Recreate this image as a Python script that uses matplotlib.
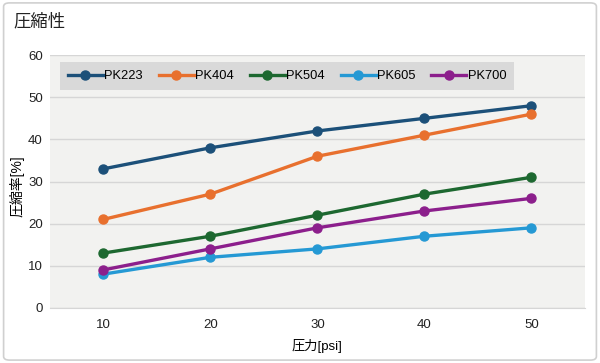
import matplotlib.pyplot as plt
from matplotlib.patches import FancyBboxPatch

# Data
pressure = ['10', '20', '30', '40', '50']
pk223 = [33, 38, 42, 45, 48]
pk404 = [21, 27, 36, 41, 46]
pk504 = [13, 17, 22, 27, 31]
pk605 = [8, 12, 14, 17, 19]
pk700 = [9, 14, 19, 23, 26]

series = [('PK223', pk223, '#1c5079'),
          ('PK404', pk404, '#e8702e'),
          ('PK504', pk504, '#1d6830'),
          ('PK605', pk605, '#2599d4'),
          ('PK700', pk700, '#8c1f8c')]

plt.rcParams['font.family'] = ['Liberation Sans', 'Noto Sans CJK JP']
plt.rcParams['font.size'] = 9

fig = plt.figure(figsize=(6, 3.63), dpi=100)
ax = fig.add_axes([0.083, 0.152, 0.892, 0.696])

# Rounded outer frame
fig.patches.append(FancyBboxPatch((0.006, 0.008), 0.988, 0.984,
                                  boxstyle='round,pad=0,rounding_size=0.01',
                                  transform=fig.transFigure, fill=False,
                                  edgecolor='#d0d0d0', linewidth=1.2))

x = range(len(pressure))
for name, vals, col in series:
    ax.plot(x, vals, color=col, linewidth=2.4, marker='o', markersize=6.5, label=name)

ax.set_facecolor('#f2f2f0')
ax.set_xlim(-0.5, 4.5)
ax.set_ylim(0, 60)
ax.set_yticks(range(0, 61, 10))
ax.set_xticks(list(x))
ax.set_xticklabels(pressure)
ax.yaxis.grid(True, color='#d6d6d6', linewidth=1)
ax.set_axisbelow(True)
for s in ['top', 'right', 'left']:
    ax.spines[s].set_visible(False)
ax.spines['bottom'].set_color('#d6d6d6')
ax.tick_params(axis='y', length=0, pad=5, labelsize=9.5, colors='#222222')
ax.tick_params(axis='x', length=0, pad=8, labelsize=9.5, colors='#222222')

ax.set_xlabel('圧力[psi]', fontsize=9.5, labelpad=6)
ax.set_ylabel('圧縮率[%]', fontsize=10)
ax.yaxis.set_label_coords(-0.047, 0.48)

leg = ax.legend(ncol=5, loc='upper left', bbox_to_anchor=(0.019, 0.972),
                borderaxespad=0, frameon=True, fancybox=False, handlelength=2.7,
                handletextpad=0.1, columnspacing=1.25, borderpad=0.6, fontsize=9.3)
leg.get_frame().set_facecolor('#d9d9d9')
leg.get_frame().set_edgecolor('none')
leg.get_frame().set_alpha(1)

fig.text(0.022, 0.926, '圧縮性', fontsize=12.5, color='#222222')

plt.savefig('out.png', dpi=100)
